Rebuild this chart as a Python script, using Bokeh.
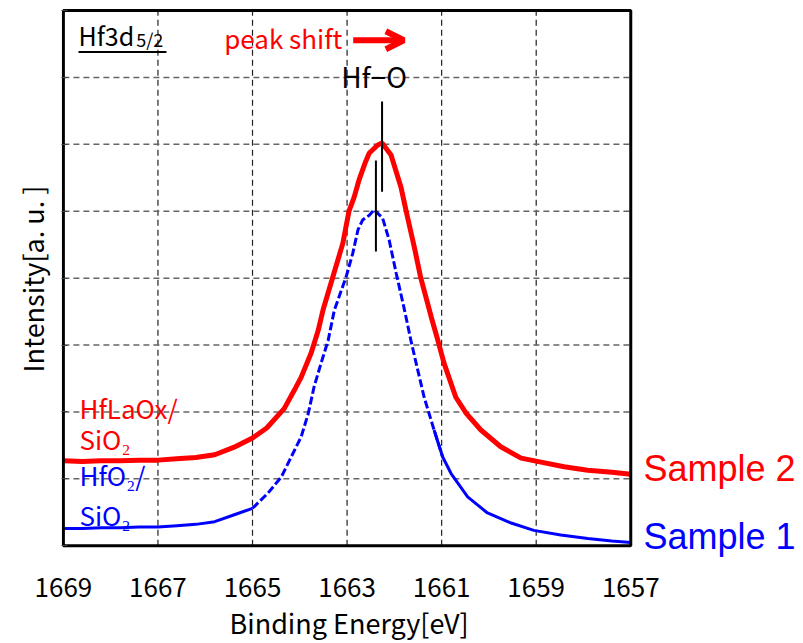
from bokeh.plotting import figure
from bokeh.models import Range1d, FixedTicker, Label, Arrow, OpenHead, CustomJSTickFormatter, Title
from bokeh.embed import file_html
from bokeh.resources import INLINE
import numpy as np

# ---------------- data ----------------
energy_s2 = [1669.0, 1668.6, 1668.2, 1667.8, 1667.4, 1667.0, 1666.6, 1666.2, 1665.8, 1665.4,
             1665.0, 1664.7, 1664.33, 1664.12, 1663.97, 1663.76, 1663.61, 1663.51, 1663.30, 1663.09,
             1662.96, 1662.85, 1662.75, 1662.62, 1662.53, 1662.35, 1662.26, 1662.07, 1661.86, 1661.75,
             1661.58, 1661.44, 1661.22, 1661.08, 1660.95, 1660.70, 1660.48, 1660.17, 1659.75, 1659.32,
             1658.90, 1658.41, 1657.91, 1657.4, 1657.0]
intensity_s2 = [1.27, 1.26, 1.27, 1.27, 1.28, 1.28, 1.30, 1.32, 1.36, 1.47,
                1.61, 1.76, 2.05, 2.32, 2.52, 2.88, 3.22, 3.52, 4.02, 4.52,
                5.00, 5.21, 5.46, 5.72, 5.87, 5.99, 6.02, 5.84, 5.36, 5.00,
                4.47, 4.00, 3.42, 3.07, 2.73, 2.22, 1.98, 1.73, 1.48, 1.31,
                1.25, 1.18, 1.13, 1.10, 1.07]

energy_s1 = [1669.0, 1668.6, 1668.2, 1667.8, 1667.4, 1667.0, 1666.6, 1666.2, 1665.8, 1665.4,
             1665.0, 1664.67, 1664.39, 1664.18, 1663.97, 1663.82, 1663.70, 1663.55, 1663.40, 1663.27,
             1663.02, 1662.88, 1662.77, 1662.67, 1662.53, 1662.43, 1662.25, 1662.11, 1661.96, 1661.80,
             1661.65, 1661.54, 1661.37, 1661.16, 1660.98, 1660.80, 1660.45, 1660.03, 1659.53, 1659.05,
             1658.48, 1657.91, 1657.4, 1657.0]
intensity_s1 = [0.26, 0.26, 0.27, 0.27, 0.28, 0.28, 0.30, 0.32, 0.36, 0.46,
                0.56, 0.79, 1.03, 1.33, 1.63, 1.98, 2.37, 2.73, 3.07, 3.52,
                4.02, 4.37, 4.72, 4.87, 4.94, 5.02, 4.90, 4.57, 4.07, 3.57,
                3.07, 2.73, 2.22, 1.73, 1.33, 1.08, 0.73, 0.49, 0.34, 0.23,
                0.16, 0.11, 0.07, 0.05]

x_ticks = [1669, 1667, 1665, 1663, 1661, 1659, 1657]
y_grid = [0, 1, 2, 3, 4, 5, 6, 7, 8]

RED = "#ff0000"
BLUE = "#0000ff"
GOTHIC = "Noto Sans CJK JP"
ARIAL = "Liberation Sans"

X_LO, X_HI = max(x_ticks), min(x_ticks)
Y_LO, Y_HI = min(y_grid), max(y_grid)

# the drawing area extends right and below the plot box so that the
# "Sample" labels (which sit outside the box) are not clipped
p = figure(width=800, height=643, output_backend="svg", toolbar_location=None,
           x_range=Range1d(X_LO + 0.04, 1653.41), y_range=Range1d(Y_LO - 0.25, Y_HI + 0.03),
           min_border_left=60, min_border_right=0, min_border_top=8, min_border_bottom=81)
p.background_fill_color = "white"
p.border_fill_color = "white"
p.outline_line_color = None

# axes
p.xaxis.ticker = FixedTicker(ticks=x_ticks)
p.yaxis.ticker = FixedTicker(ticks=y_grid)
p.yaxis.formatter = CustomJSTickFormatter(code="return ''")
for ax in (p.xaxis, p.yaxis):
    ax.axis_line_color = None
    ax.minor_tick_line_color = None
    ax.major_label_text_font = GOTHIC
    ax.major_label_text_color = "black"
p.xaxis.major_tick_line_color = None
p.xaxis.major_label_text_font_size = "26px"
p.xaxis.major_label_standoff = 9
p.yaxis.major_tick_in = 6
p.yaxis.major_tick_out = 0
p.yaxis.major_tick_line_color = "#444444"
p.yaxis.major_label_standoff = 0

# axis titles, positioned relative to the plot box
p.add_layout(Title(text="Binding Energy[eV]", text_font=GOTHIC, text_font_size="27px",
                   text_font_style="normal", text_color="black", align="left",
                   offset=168, standoff=2), "below")
p.add_layout(Title(text="Intensity[a. u. ]", text_font=GOTHIC, text_font_size="27px",
                   text_font_style="normal", text_color="black", align="left",
                   offset=190, standoff=20), "left")

# grids drawn only inside the plot box
p.xgrid.visible = False
p.ygrid.visible = False
inner_x = x_ticks[1:-1]
inner_y = y_grid[1:-1]
p.segment(x0=inner_x, y0=[Y_LO] * len(inner_x), x1=inner_x, y1=[Y_HI] * len(inner_x),
          line_color="#222222", line_dash="6 4", line_width=1.2)
p.segment(x0=[X_LO] * len(inner_y), y0=inner_y, x1=[X_HI] * len(inner_y), y1=inner_y,
          line_color="#666666", line_dash="6 4", line_width=1.5)

# curves
e1 = np.array(energy_s1)
i1 = np.array(intensity_s1)
DASH_HI, DASH_LO = 1665.0, 1661.0
left = e1 >= DASH_HI
mid_idx = np.where((e1 <= DASH_HI) & (e1 >= DASH_LO))[0]
mid = np.zeros_like(left)
mid[mid_idx[0]:min(mid_idx[-1] + 2, len(e1))] = True
right_idx = np.where(e1 <= DASH_LO)[0]
right = np.zeros_like(left)
right[max(right_idx[0] - 1, 0):] = True

p.line(e1[left], i1[left], line_color=BLUE, line_width=3)
p.line(e1[mid], i1[mid], line_color=BLUE, line_width=3, line_dash="8 3")
p.line(e1[right], i1[right], line_color=BLUE, line_width=3)
p.line(energy_s2, intensity_s2, line_color=RED, line_width=5)

# plot box
p.quad(left=[X_LO], right=[X_HI], bottom=[Y_LO], top=[Y_HI],
       fill_color=None, line_color="black", line_width=3)

# peak markers
k2 = int(np.argmax(intensity_s2))
k1 = int(np.argmax(intensity_s1))
p.segment(x0=[energy_s2[k2]], y0=[intensity_s2[k2] + 0.62], x1=[energy_s2[k2]],
          y1=[intensity_s2[k2] - 0.73], line_color="black", line_width=2)
p.segment(x0=[energy_s1[k1] - 0.04], y0=[intensity_s1[k1] + 0.74], x1=[energy_s1[k1] - 0.04],
          y1=[intensity_s1[k1] - 0.62], line_color="black", line_width=2)

def lab(x, y, text, size, color="black", font=GOTHIC, align="left"):
    p.add_layout(Label(x=x, y=y, text=text, text_font=font, text_font_size=size,
                       text_color=color, text_baseline="middle", text_align=align))

lab(1668.68, 7.64, "Hf3d", "25px")
lab(1667.46, 7.58, "5/2", "18px")
p.segment(x0=[1668.68], y0=[7.38], x1=[1666.82], y1=[7.38], line_color="black", line_width=2)
lab(1665.60, 7.60, "peak shift", "26px", RED)
p.add_layout(Arrow(end=OpenHead(line_color=RED, line_width=6, size=18),
                   x_start=1662.87, y_start=7.556, x_end=1661.80, y_end=7.556,
                   line_color=RED, line_width=6))
lab(1662.43, 7.02, "Hf\u2212O", "28px", align="center")
lab(1668.66, 2.07, "HfLaOx/", "26px", RED)
lab(1668.66, 1.60, "SiO\u2082", "26px", RED)
lab(1668.66, 1.07, "HfO\u2082/", "26px", BLUE)
lab(1668.66, 0.47, "SiO\u2082", "26px", BLUE)
lab(1656.73, 1.154, "Sample 2", "36px", RED, ARIAL)
lab(1656.73, 0.135, "Sample 1", "36px", BLUE, ARIAL)

open("out.html", "w").write(file_html(p, INLINE))
